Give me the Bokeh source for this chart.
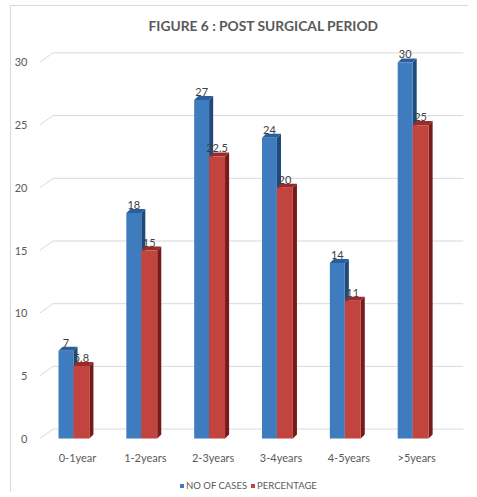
import numpy as np
from bokeh.plotting import figure
from bokeh.models import ColumnDataSource, FixedTicker, Legend, LegendItem, Title, Range1d
from bokeh.embed import file_html
from bokeh.resources import INLINE
from bokeh.core.properties import value

# ---- data ----
categories = ["0-1year", "1-2years", "2-3years", "3-4years", "4-5years", ">5years"]
no_of_cases = [7, 18, 27, 24, 14, 30]
percentage = [5.8, 15, 22.5, 20, 11, 25]
y_ticks = [0, 5, 10, 15, 20, 25, 30]
series_names = ["NO OF CASES", "PERCENTAGE"]
title_text = "FIGURE 6 : POST SURGICAL PERIOD"

FONT = "Lato"
TXT = "#595959"

# ---- geometry / style ----
bar_w_blue = 0.22
bar_w_red = 0.235
dx = 0.06      # 3D side depth (x, data units)
dy = 0.32      # 3D side depth (y, data units)
grid_dx = 0.2
grid_dy = 0.76
x_start, x_end = -0.5, 5.75

p = figure(width=458, height=487,
           x_range=Range1d(x_start, x_end), y_range=Range1d(-4.377, 31.67),
           x_axis_location=None,
           output_backend="svg", toolbar_location=None,
           min_border_left=28, min_border_right=6, min_border_top=34, min_border_bottom=0)
p.styles = {"margin-left": "10px", "margin-top": "5px",
            "border-top": "1px solid #d9d9d9", "border-left": "1px solid #d9d9d9"}
p.outline_line_color = None
p.xgrid.visible = False
p.ygrid.visible = False
p.background_fill_color = "white"
p.border_fill_color = "white"

# back-wall gridlines (3D look)
gx = [[x_start, x_start + grid_dx, x_end] for _ in y_ticks]
gy = [[v, v + grid_dy, v + grid_dy] for v in y_ticks]
p.multi_line(gx, gy, line_color="#d9d9d9", line_width=1)

xpos = np.arange(len(categories))


def draw_series(vals, left, right, front, side, top):
    src = ColumnDataSource(dict(left=left, right=right, top=vals, bottom=[0] * len(vals)))
    side_xs = [[r, r + dx, r + dx, r] for r in right]
    side_ys = [[0, dy, v + dy, v] for v in vals]
    top_xs = [[l, r, r + dx, l + dx] for l, r in zip(left, right)]
    top_ys = [[v, v, v + dy, v + dy] for v in vals]
    p.patches(side_xs, side_ys, fill_color=side, line_color=None)
    p.patches(top_xs, top_ys, fill_color=top, line_color=None)
    r = p.quad(left="left", right="right", top="top", bottom="bottom", source=src,
               fill_color=front, line_color=None)
    return r


blue_left = xpos - bar_w_blue
blue_right = xpos.astype(float)
red_left = xpos.astype(float)
red_right = xpos + bar_w_red

r_blue = draw_series(no_of_cases, blue_left, blue_right, "#3f7bbf", "#1f4a7a", "#2c5f9a")
r_red = draw_series(percentage, red_left, red_right, "#c1443f", "#781a1a", "#9a2b2a")

# data labels
p.text(x=list((blue_left + blue_right) / 2), y=no_of_cases,
       text=[f"{v:g}" for v in no_of_cases], text_align="center", text_baseline="bottom",
       y_offset=-4, text_font=value(FONT), text_font_size="11px", text_color="#404040")
p.text(x=list((red_left + red_right) / 2), y=percentage,
       text=[f"{v:g}" for v in percentage], text_align="center", text_baseline="bottom",
       y_offset=-4, text_font=value(FONT), text_font_size="11px", text_color="#404040")

# category labels (x axis)
p.text(x=list(xpos + 0.06), y=[0] * len(categories), text=categories,
       text_align="center", text_baseline="middle", y_offset=19,
       text_font=value(FONT), text_font_size="11px", text_color=TXT)

# y axis
p.yaxis.ticker = FixedTicker(ticks=y_ticks)
p.yaxis.axis_line_color = None
p.yaxis.major_tick_line_color = None
p.yaxis.minor_tick_line_color = None
p.yaxis.major_label_text_color = TXT
p.yaxis.major_label_text_font = FONT
p.yaxis.major_label_text_font_size = "11px"
p.yaxis.major_label_standoff = 6

# title
p.title = Title(text=title_text, align="left", offset=109, standoff=16,
                text_font=FONT, text_font_size="13.8px", text_font_style="bold",
                text_color=TXT)

# legend
legend = Legend(items=[LegendItem(label=series_names[0], renderers=[r_blue]),
                       LegendItem(label=series_names[1], renderers=[r_red])],
                orientation="horizontal", location=(140, 2),
                glyph_width=5, glyph_height=5, label_height=12, label_width=10,
                label_standoff=2, spacing=3, padding=0, margin=0,
                border_line_color=None, background_fill_alpha=0,
                label_text_font=FONT, label_text_font_size="9.5px", label_text_color=TXT)
p.add_layout(legend, "center")

open("out.html", "w").write(file_html(p, INLINE))
